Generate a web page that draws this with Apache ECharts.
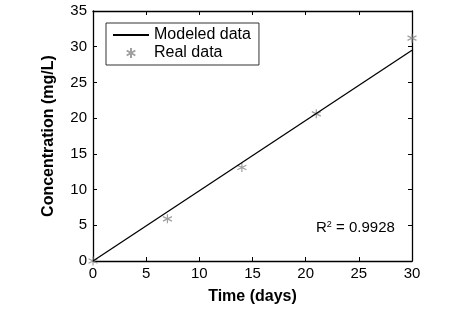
<!DOCTYPE html>
<html><head><meta charset="utf-8">
<script src="https://cdn.jsdelivr.net/npm/echarts@6/dist/echarts.min.js"></script>
<style>html,body{margin:0;padding:0;background:#fff}#c{width:454px;height:313px}</style>
</head><body><div id="c"></div>
<script>
var modelX = [0, 30];
var modelY = [0, 29.5];
var realX = [0, 7, 14, 21, 30];
var realY = [0, 5.9, 13.1, 20.6, 31.2];
var xTicks = [0, 5, 10, 15, 20, 25, 30];
var yTicks = [0, 5, 10, 15, 20, 25, 30, 35];
var rSquared = '0.9928';

var font = 'Liberation Sans, Arial, sans-serif';
var chart = echarts.init(document.getElementById('c'));
var star = 'path://M0,-5L0,5M-4.33,-2.5L4.33,2.5M-4.33,2.5L4.33,-2.5';
var axisBase = {
  type: 'value', splitLine: {show: false},
  axisLine: {onZero: false, lineStyle: {color: '#000', width: 1.3}},
  axisTick: {inside: true, length: 4, lineStyle: {color: '#000'}},
  axisLabel: {color: '#000', fontFamily: font, fontSize: 15}
};
chart.setOption({
  animation: false,
  grid: {left: 93, right: 42, top: 11, bottom: 52},
  legend: {
    show: true,
    orient: 'vertical', left: 106, top: 23,
    padding: [4, 8, 4, 6], itemGap: 2,
    borderColor: '#333', borderWidth: 1,
    itemWidth: 36, itemHeight: 10,
    textStyle: {fontFamily: font, fontSize: 16, color: '#000'},
    data: [
      {name: 'Modeled data', itemStyle: {color: 'rgba(0,0,0,0)', borderColor: 'rgba(0,0,0,0)', borderWidth: 0, opacity: 0}},
      {name: 'Real data'}
    ]
  },
  xAxis: [
    Object.assign({}, axisBase, {min: 0, max: 30, interval: 5, position: 'bottom',
      name: 'Time (days)', nameLocation: 'middle', nameGap: 28,
      nameTextStyle: {fontFamily: font, fontSize: 16, fontWeight: 'bold', color: '#000'},
      axisLabel: Object.assign({}, axisBase.axisLabel, {margin: 5})}),
    Object.assign({}, axisBase, {min: 0, max: 30, interval: 5, position: 'top',
      axisLabel: {show: false}})
  ],
  yAxis: [
    Object.assign({}, axisBase, {min: 0, max: 35, interval: 5, position: 'left',
      name: 'Concentration (mg/L)', nameLocation: 'middle', nameGap: 36,
      nameTextStyle: {fontFamily: font, fontSize: 16, fontWeight: 'bold', color: '#000'},
      axisLabel: Object.assign({}, axisBase.axisLabel, {margin: 6})}),
    Object.assign({}, axisBase, {min: 0, max: 35, interval: 5, position: 'right',
      axisLabel: {show: false}})
  ],
  series: [
    {name: 'Modeled data', type: 'line', symbol: 'none',
      lineStyle: {color: '#000', width: 1.3}, itemStyle: {color: '#000'},
      data: modelX.map(function (x, i) { return [x, modelY[i]]; })},
    {name: 'Real data', type: 'scatter', symbol: star, symbolSize: 9,
      itemStyle: {color: 'rgba(0,0,0,0)', borderColor: '#888', borderWidth: 1.2},
      data: realX.map(function (x, i) { return [x, realY[i]]; })}
  ],
  graphic: [{
    type: 'text', left: 316, top: 220,
    style: {text: 'R{s|2} = ' + rSquared, font: '15px ' + font, fill: '#000',
      rich: {s: {fontSize: 9, verticalAlign: 'top', padding: [0, 0, 7, 0], fontFamily: font, fill: '#000'}}}
  }]
});
</script></body></html>
